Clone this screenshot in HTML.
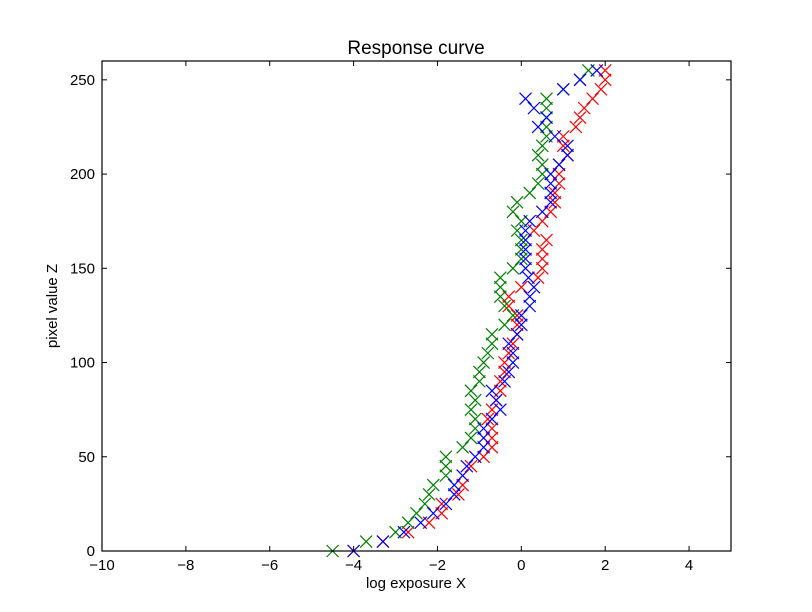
<!DOCTYPE html>
<html><head><meta charset="utf-8"><style>
body{margin:0;background:#fff;}
svg{display:block;font-family:"Liberation Sans","DejaVu Sans",sans-serif;}
</style></head><body>
<svg id="chart" width="812" height="612" viewBox="0 0 812 612">
<rect width="812" height="612" fill="#fff"/>
<text x="416" y="54" text-anchor="middle" font-size="19">Response curve</text>
<g id="marks"></g>
<g id="axes"></g>
<text x="416" y="588" text-anchor="middle" font-size="15">log exposure X</text>
<text transform="translate(57,306) rotate(-90)" text-anchor="middle" font-size="15">pixel value Z</text>
</svg>
<script>
const zValues = [0,5,10,15,20,25,30,35,40,45,50,55,60,65,70,75,80,85,90,95,100,105,110,115,120,125,130,135,140,145,150,155,160,165,170,175,180,185,190,195,200,205,210,215,220,225,230,235,240,245,250,255];
const redX = [-4.0,-3.3,-2.7,-2.2,-1.9,-1.9,-1.5,-1.4,-1.4,-1.2,-0.9,-0.7,-0.7,-0.7,-0.8,-0.7,-0.6,-0.5,-0.5,-0.4,-0.4,-0.3,-0.2,-0.1,-0.1,-0.1,-0.3,-0.3,0.0,0.4,0.5,0.5,0.5,0.6,0.3,0.5,0.7,0.8,0.8,0.9,0.9,0.9,1.1,1.0,1.0,1.3,1.4,1.5,1.7,1.9,2.0,2.0];
const greenX = [-4.5,-3.7,-3.0,-2.7,-2.5,-2.3,-2.2,-2.1,-1.8,-1.8,-1.8,-1.4,-1.2,-1.1,-1.1,-1.2,-1.1,-1.2,-1.0,-1.0,-0.9,-0.8,-0.7,-0.7,-0.4,-0.2,-0.4,-0.5,-0.5,-0.5,-0.2,0.0,0.0,0.0,-0.1,0.0,-0.2,-0.1,0.2,0.4,0.5,0.5,0.4,0.5,0.6,0.6,0.6,0.6,0.6,1.0,1.4,1.6];
const blueX = [-4.0,-3.3,-2.8,-2.4,-2.1,-1.8,-1.6,-1.6,-1.4,-1.3,-1.1,-0.9,-0.9,-0.9,-0.7,-0.5,-0.6,-0.7,-0.4,-0.3,-0.2,-0.2,-0.3,-0.1,0.0,0.0,0.2,0.2,0.3,0.17,0.1,0.1,0.1,0.1,0.1,0.2,0.5,0.7,0.7,0.7,0.7,0.9,1.1,1.1,0.8,0.4,0.6,0.3,0.1,1.0,1.4,1.8];
const xTicks = [-10,-8,-6,-4,-2,0,2,4];
const yTicks = [0,50,100,150,200,250];

const L=102,R=731,T=61,B=551, xMin=-10,xMax=5,yMin=0,yMax=260;
const sx=v=>L+(v-xMin)/(xMax-xMin)*(R-L);
const sy=v=>B-(v-yMin)/(yMax-yMin)*(B-T);
const NS='http://www.w3.org/2000/svg';
const marks=document.getElementById('marks');
const axes=document.getElementById('axes');
function mk(tag,attrs,parent){const e=document.createElementNS(NS,tag);for(const k in attrs)e.setAttribute(k,attrs[k]);parent.appendChild(e);return e;}

const series=[['red',redX,'#ff0000'],['green',greenX,'#008000'],['blue',blueX,'#0000ff']];
series.forEach(([name,xs,col])=>{
  const g=mk('g',{stroke:col,'stroke-width':1.2,fill:'none'},marks);
  
  
  xs.forEach((xv,i)=>{
    const cx=sx(xv),cy=sy(zValues[i]),h=6;
    const p=mk('path',{d:`M${cx-h},${cy-h}L${cx+h},${cy+h}M${cx-h},${cy+h}L${cx+h},${cy-h}`},g);
    
    
  });
});

const frame=mk('rect',{x:L,y:T,width:R-L,height:B-T,fill:'none',stroke:'#000','stroke-width':1.2},axes);


xTicks.forEach(t=>{
  const x=sx(t);
  mk('line',{x1:x,x2:x,y1:B,y2:B-5,stroke:'#000'},axes);
  mk('line',{x1:x,x2:x,y1:T,y2:T+5,stroke:'#000'},axes);
  const lb=mk('text',{x:x,y:B+19,'text-anchor':'middle','font-size':15},axes);
  lb.textContent=(t<0?'\u2212'+(-t):t);
  
  
});
yTicks.forEach(t=>{
  const y=sy(t);
  mk('line',{x1:L,x2:L+5,y1:y,y2:y,stroke:'#000'},axes);
  mk('line',{x1:R,x2:R-5,y1:y,y2:y,stroke:'#000'},axes);
  const lb=mk('text',{x:L-7,y:y+5,'text-anchor':'end','font-size':15},axes);
  lb.textContent=t;
  
  
});
</script>
</body></html>
